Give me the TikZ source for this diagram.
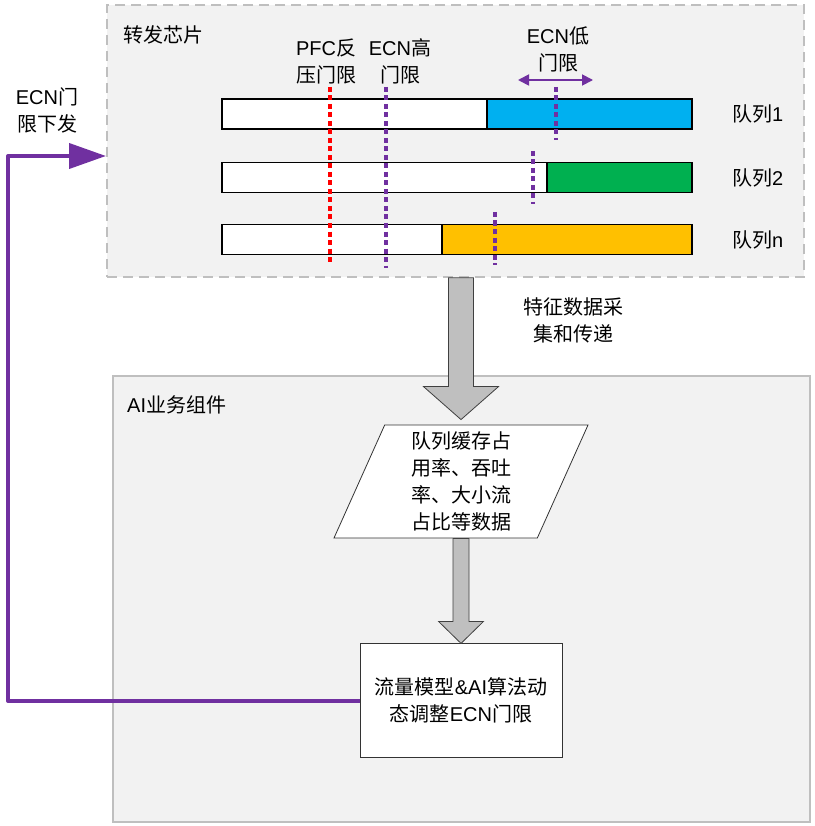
\documentclass[tikz,border=0pt]{standalone}
\usepackage{fontspec}
\setmainfont{Liberation Sans}
\newfontfamily\cjk{Noto Sans CJK SC}
\usetikzlibrary{shapes,arrows,arrows.meta,positioning,calc}

\definecolor{panelgray}{HTML}{F2F2F2}
\definecolor{edgegray}{HTML}{BFBFBF}
\definecolor{qblue}{HTML}{00B0F0}
\definecolor{qgreen}{HTML}{00B050}
\definecolor{qorange}{HTML}{FFC000}
\definecolor{ecnpurple}{HTML}{7030A0}
\definecolor{pfcred}{HTML}{FF0000}

% fat downward arrow: start, tip, half shaft, half head, head length
\newcommand{\fatarrow}[5]{%
  \draw[bigarrow] let \p1=(#1), \p2=(#2) in
    (\x2-#3pt,\y1) -- (\x2-#3pt,\y2+#5pt) -- (\x2-#4pt,\y2+#5pt) -- (\x2,\y2)
    -- (\x2+#4pt,\y2+#5pt) -- (\x2+#3pt,\y2+#5pt) -- (\x2+#3pt,\y1) -- cycle;}

\begin{document}
\begin{tikzpicture}[
    x=1pt, y=-1pt,
    font=\fontsize{20}{27}\selectfont,
    chippanel/.style={rectangle, draw=edgegray, fill=panelgray, line width=1.5pt, dash pattern=on 10pt off 6pt, inner sep=0pt},
    aipanel/.style={rectangle, draw=edgegray, fill=panelgray, line width=1.5pt, inner sep=0pt},
    qbar/.style={rectangle, draw=black, fill=white, line width=1.3pt, inner sep=0pt, outer sep=0pt, minimum height=30pt, anchor=west},
    pfcline/.style={draw=pfcred, line width=3.5pt, dash pattern=on 5pt off 3.5pt},
    ecnline/.style={draw=ecnpurple, line width=3.5pt, dash pattern=on 5pt off 3.5pt},
    ecnrange/.style={draw=ecnpurple, line width=1.8pt, {Triangle[length=11pt,width=11pt]}-{Triangle[length=11pt,width=11pt]}},
    bigarrow/.style={draw=black!75, fill=edgegray, line width=0.8pt},
    databox/.style={trapezium, trapezium left angle=63, trapezium right angle=117, trapezium stretches body, draw=black!80, fill=white, line width=0.8pt, minimum width=254pt, minimum height=113pt, align=center, inner sep=0pt},
    procbox/.style={rectangle, draw=black!80, fill=white, line width=0.8pt, minimum width=202pt, minimum height=114pt, align=center},
    feedback/.style={draw=ecnpurple, line width=4pt, line join=round, -{Triangle[length=37pt,width=25pt]}}
]
    \useasboundingbox (0,0) rectangle (814,826);

    % panels
    \node[chippanel, minimum width=697pt, minimum height=272pt] (chip) at (455.5,141) {};
    \node[aipanel, minimum width=697pt, minimum height=446pt] (ai) at (461.5,599) {};
    \node[anchor=west, inner sep=0pt] (chiplbl) at (123,35) {\cjk 转发芯片};
    \node[anchor=west, inner sep=0pt] (ailbl) at (127,405) {AI{\cjk 业务组件}};

    % queues
    \node[qbar, minimum width=265pt] (q1free) at (222,114) {};
    \node[qbar, fill=qblue, minimum width=205pt] (q1used) at (q1free.east) {};
    \node[qbar, minimum width=325pt] (q2free) at (222,177.5) {};
    \node[qbar, fill=qgreen, minimum width=145pt] (q2used) at (q2free.east) {};
    \node[qbar, minimum width=220pt] (qnfree) at (222,239.5) {};
    \node[qbar, fill=qorange, minimum width=250pt] (qnused) at (qnfree.east) {};
    \node[right=38pt of q1used, inner sep=2pt] (q1lbl) {{\cjk 队列}1};
    \node[right=38pt of q2used, inner sep=2pt] (q2lbl) {{\cjk 队列}2};
    \node[right=38pt of qnused, inner sep=2pt] (qnlbl) {{\cjk 队列}n};

    % thresholds
    \draw[pfcline] (330,87) -- (330,265);
    \draw[ecnline] (386,87) -- (386,268);
    \draw[ecnline] (556,87) -- (556,140);
    \draw[ecnline] (533,151) -- (533,204);
    \draw[ecnline] (495,212) -- (495,265);
    \draw[ecnrange] (518,80) -- (593,80);
    \node[align=center] (pfclbl) at (326,61) {PFC{\cjk 反}\\{\cjk 压门限}};
    \node[align=center] (ecnhilbl) at (400,61) {ECN{\cjk 高}\\{\cjk 门限}};
    \node[align=center] (ecnlolbl) at (558,49) {ECN{\cjk 低}\\{\cjk 门限}};

    % AI side
    \node[databox] (data) at (461,481.5) {{\cjk 队列缓存占}\\{\cjk 用率、吞吐}\\{\cjk 率、大小流}\\{\cjk 占比等数据}};
    \node[procbox, below=105pt of data] (model) {{\cjk 流量模型}\&AI{\cjk 算法动}\\{\cjk 态调整}ECN{\cjk 门限}};
    \node[align=center] (collectlbl) at (573,320) {{\cjk 特征数据采}\\{\cjk 集和传递}};

    \fatarrow{data.north |- chip.south}{$(data.north)+(0,-5)$}{12.5}{37.5}{33}
    \fatarrow{data.south}{model.north}{8}{22.5}{22}

    % feedback
    \coordinate (ecnturn) at (8,156);
    \coordinate (ecnin) at (106,156);
    \draw[feedback] (model.west) -| (ecnturn) -- (ecnin);
    \node[align=center] (fblbl) at (47,110) {ECN{\cjk 门}\\{\cjk 限下发}};
\end{tikzpicture}
\end{document}
